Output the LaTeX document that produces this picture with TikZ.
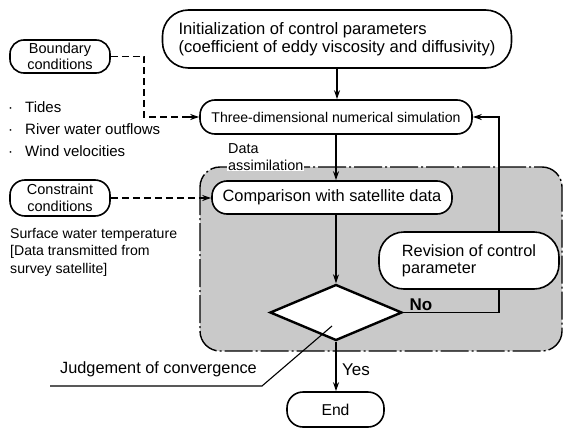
\documentclass[tikz,border=0pt]{standalone}
\usepackage{fontspec}
\setmainfont{Liberation Sans}
\usetikzlibrary{shapes.geometric,arrows.meta}
\newcommand\fz[2]{\fontsize{#1pt}{#2pt}\selectfont}
\begin{document}
\begin{tikzpicture}[x=1pt,y=-1pt,
  box/.style={draw,line width=1.6pt,fill=white,align=center,inner sep=0pt},
  arr/.style={line width=1.2pt,-{Stealth[length=9pt,width=6pt]}},
  dsh/.style={line width=1.2pt,dash pattern=on 7pt off 4pt},
  lbl/.style={inner sep=0pt}]
\useasboundingbox (0,0) rectangle (564,428);
% data assimilation region
\path[fill=gray!42,draw,line width=1.4pt,dash pattern=on 28pt off 3pt on 2pt off 3pt,rounded corners=20pt]
  (200,167) rectangle (562,351);
% nodes
\node[box,minimum width=349pt,minimum height=58pt,rounded corners=26pt,align=left,font=\fz{16.6}{18}] (init) at (337,39)
  {Initialization of control parameters\\(coefficient of eddy viscosity and diffusivity)};
\node[box,minimum width=272pt,minimum height=34pt,rounded corners=15pt,font=\fz{14.1}{17}] (three) at (336,117)
  {Three-dimensional numerical simulation};
\node[box,minimum width=100pt,minimum height=33pt,rounded corners=14pt,font=\fz{14.5}{16.5}] (bnd) at (60,56.5)
  {Boundary\\conditions};
\node[box,minimum width=100pt,minimum height=36pt,rounded corners=15pt,font=\fz{14.5}{16.5}] (con) at (60,198)
  {Constraint\\conditions};
\node[box,minimum width=240pt,minimum height=33pt,rounded corners=15pt,font=\fz{16.4}{19}] (comp) at (332,197.5)
  {Comparison with satellite data};
\node[box,diamond,line width=2.4pt,minimum width=132pt,minimum height=56pt] (dia) at (336,312.5) {};
\node[box,minimum width=97pt,minimum height=35pt,rounded corners=16pt,font=\fz{15.7}{18}] (end) at (335.5,409.5) {End};
% connectors
\draw[arr] (init.south) -- (init.south |- three.north);
\draw[arr] (three.south) -- (three.south |- comp.north);
\draw[arr] (comp.south -| dia.north) -- (dia.north);
\draw[arr] (dia.south) -- (dia.south |- end.north);
\coordinate (bc) at (144,59);
\draw[dsh] (bnd.east) -- (bnd.east -| bc) -- (bc |- three.west) -- ([xshift=-10pt]three.west);
\draw[arr] ([xshift=-12pt]three.west) -- (three.west);
\draw[dsh] (con.east) -- ([xshift=-10pt]con.east -| comp.west);
\draw[arr] ([xshift=-12pt]con.east -| comp.west) -- (con.east -| comp.west);
\coordinate (fb) at (499,117);
\draw[arr] (dia.east) -| (fb) -- (three.east);
\node[box,minimum width=180pt,minimum height=57pt,rounded corners=25pt,align=left,font=\fz{16.3}{17}] (rev) at (469,260.5)
  {Revision of control\\parameter};
% labels
\node[lbl,anchor=west,font=\fz{14.4}{17}] (dat) at (228,149) {Data};
\node[lbl,anchor=west,fill=white,inner sep=1pt,font=\fz{14.4}{17}] (asm) at (227,165) {assimilation};
\node[lbl,font=\fz{17}{20}] (yes) at (356,370) {Yes};
\node[lbl,font=\bfseries\fz{17}{20}] (no) at (421,305) {No};
\node[lbl,anchor=west,font=\fz{16.3}{19}] (judg) at (60,369) {Judgement of convergence};
\coordinate (j1) at (50,386);
\coordinate (j2) at (262,386);
\coordinate (j3) at (332,326);
\draw[line width=1.1pt] (j1) -- (j2) -- (j3);
\node[lbl,anchor=west,font=\fz{15}{18}] (b1) at (8,107) {\makebox[17pt][l]{·}Tides};
\node[lbl,anchor=west,font=\fz{15}{18}] (b2) at (8,129) {\makebox[17pt][l]{·}River water outflows};
\node[lbl,anchor=west,font=\fz{15}{18}] (b3) at (8,151) {\makebox[17pt][l]{·}Wind velocities};
\node[lbl,anchor=north west,align=left,font=\fz{14.1}{17.5}] (surf) at (10,228)
  {Surface water temperature\\{[}Data transmitted from\\survey satellite{]}};
\end{tikzpicture}
\end{document}
